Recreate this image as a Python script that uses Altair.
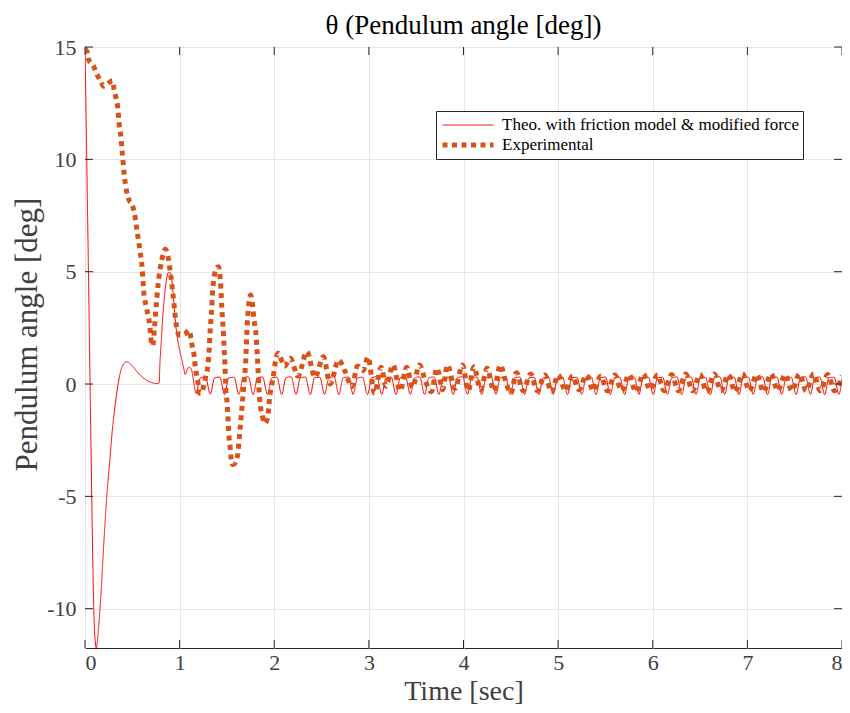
import altair as alt
import pandas as pd

series_names = ["Theo. with friction model & modified force", "Experimental"]
series_colors = ["#FF0000", "#D95319"]
x_ticks = [0, 1, 2, 3, 4, 5, 6, 7, 8]
y_ticks = [-10, -5, 0, 5, 10, 15]

# Theoretical response: transient part
theo_t = [0.000, 0.020, 0.040, 0.060, 0.075, 0.090, 0.105, 0.120, 0.140, 0.165, 0.200, 0.230,
          0.260, 0.290, 0.320, 0.350, 0.390, 0.440, 0.500, 0.550, 0.600, 0.650, 0.700, 0.770,
          0.785, 0.790, 0.800, 0.830, 0.860, 0.880, 0.900, 0.930, 0.945, 0.965, 0.980, 1.000,
          1.020, 1.040, 1.060, 1.080, 1.100, 1.125, 1.150,
          # limit-cycle oscillation
          1.173, 1.218, 1.273, 1.324, 1.369, 1.424, 1.475, 1.520, 1.575, 1.626, 1.671, 1.726,
          1.777, 1.822, 1.877, 1.928, 1.973, 2.028, 2.079, 2.124, 2.179, 2.230, 2.275, 2.330,
          2.381, 2.426, 2.481, 2.532, 2.577, 2.632, 2.683, 2.728, 2.783, 2.834, 2.879, 2.934,
          2.985, 3.030, 3.085, 3.136, 3.181, 3.236, 3.287, 3.332, 3.387, 3.438, 3.483, 3.538,
          3.589, 3.634, 3.689, 3.740, 3.785, 3.840, 3.891, 3.936, 3.991, 4.042, 4.087, 4.142,
          4.193, 4.238, 4.293, 4.344, 4.389, 4.444, 4.495, 4.540, 4.595, 4.646, 4.691, 4.746,
          4.797, 4.842, 4.897, 4.948, 4.993, 5.048, 5.099, 5.144, 5.199, 5.250, 5.295, 5.350,
          5.401, 5.446, 5.501, 5.552, 5.597, 5.652, 5.703, 5.748, 5.803, 5.854, 5.899, 5.954,
          6.005, 6.050, 6.105, 6.156, 6.201, 6.256, 6.307, 6.352, 6.407, 6.458, 6.503, 6.558,
          6.609, 6.654, 6.709, 6.760, 6.805, 6.860, 6.911, 6.956, 7.011, 7.062, 7.107, 7.162,
          7.213, 7.258, 7.313, 7.364, 7.409, 7.464, 7.515, 7.560, 7.615, 7.666, 7.711, 7.766,
          7.817, 7.862, 7.917, 7.968, 8.000]
theo_y = [15.00, 9.60, 4.00, -1.80, -6.00, -9.60, -11.30, -11.75, -11.00, -9.60, -7.00, -5.00,
          -3.50, -2.00, -0.90, 0.00, 0.75, 0.99, 0.80, 0.55, 0.33, 0.17, 0.07, 0.02,
          0.05, 0.75, 1.50, 3.44, 4.60, 4.95, 4.95, 4.10, 3.30, 2.40, 1.96, 1.50,
          1.15, 0.77, 0.42, 0.65, 0.75, 0.65, 0.05,
          -0.42, 0.26, 0.32, -0.45, 0.27, 0.31, -0.47, 0.28, 0.30, -0.46, 0.27, 0.32,
          -0.47, 0.28, 0.31, -0.46, 0.27, 0.30, -0.47, 0.28, 0.32, -0.46, 0.27, 0.31,
          -0.47, 0.28, 0.30, -0.46, 0.27, 0.32, -0.47, 0.28, 0.31, -0.46, 0.27, 0.30,
          -0.47, 0.28, 0.32, -0.46, 0.27, 0.31, -0.47, 0.28, 0.30, -0.46, 0.27, 0.32,
          -0.47, 0.28, 0.31, -0.46, 0.27, 0.30, -0.47, 0.28, 0.32, -0.46, 0.27, 0.31,
          -0.47, 0.28, 0.30, -0.46, 0.27, 0.32, -0.47, 0.28, 0.31, -0.46, 0.27, 0.30,
          -0.47, 0.28, 0.32, -0.46, 0.27, 0.31, -0.47, 0.28, 0.30, -0.46, 0.27, 0.32,
          -0.47, 0.28, 0.31, -0.46, 0.27, 0.30, -0.47, 0.28, 0.32, -0.46, 0.27, 0.31,
          -0.47, 0.28, 0.30, -0.46, 0.27, 0.32, -0.47, 0.28, 0.31, -0.46, 0.27, 0.30,
          -0.47, 0.28, 0.32, -0.46, 0.27, 0.31, -0.47, 0.28, 0.30, -0.46, 0.27, 0.32,
          -0.47, 0.28, 0.31, -0.46, 0.27, 0.30, -0.47, 0.28, 0.32, -0.46, 0.27, 0.31,
          -0.47, 0.28, 0.30, -0.46, 0.25]

# Experimental response
exp_t = [0.000, 0.020, 0.040, 0.090, 0.126, 0.161, 0.196, 0.230, 0.266, 0.290, 0.308, 0.329,
         0.346, 0.364, 0.378, 0.396, 0.413, 0.441, 0.465, 0.500, 0.522, 0.553, 0.581, 0.606,
         0.619, 0.651, 0.686, 0.700, 0.715, 0.735, 0.752, 0.770, 0.798, 0.829, 0.847, 0.875,
         0.903, 0.927, 0.945, 0.962, 0.997, 1.050, 1.100, 1.120, 1.137, 1.155, 1.165, 1.180,
         1.195, 1.207, 1.230, 1.260, 1.280, 1.295, 1.312, 1.323, 1.337, 1.347, 1.358, 1.372,
         1.389, 1.410, 1.435, 1.445, 1.459, 1.470, 1.480, 1.487, 1.505, 1.515, 1.522, 1.533,
         1.540, 1.557, 1.580, 1.600, 1.620, 1.627, 1.638, 1.655, 1.680, 1.697, 1.715, 1.732,
         1.750, 1.767, 1.785, 1.810, 1.827, 1.837, 1.855, 1.872, 1.900, 1.932, 1.950, 1.970,
         1.995, 2.012, 2.040, 2.110, 2.170, 2.250, 2.345, 2.430, 2.520, 2.590, 2.680, 2.750,
         2.820, 2.880, 2.940, 2.990, 3.060, 3.130, 3.180, 3.255, 3.330, 3.400, 3.460, 3.535,
         3.600, 3.660, 3.720, 3.780, 3.830, 3.910, 3.990, 4.050, 4.110, 4.180, 4.250, 4.320,
         4.390, 4.440, 4.500, 4.560, 4.630, 4.710, 4.780, 4.860, 4.930, 5.000, 5.080, 5.150,
         5.220, 5.300, 5.370, 5.450, 5.520, 5.600, 5.670, 5.750, 5.820, 5.900, 5.970, 6.050,
         6.120, 6.200, 6.270, 6.350, 6.420, 6.500, 6.570, 6.650, 6.720, 6.800, 6.870, 6.950,
         7.020, 7.100, 7.170, 7.250, 7.320, 7.400, 7.470, 7.550, 7.620, 7.700, 7.770, 7.850,
         7.920, 8.000]
exp_y = [14.90, 14.80, 14.42, 14.15, 13.78, 13.53, 13.25, 13.35, 13.45, 13.50, 13.10, 12.71,
         12.30, 11.45, 11.05, 10.19, 9.38, 8.56, 8.19, 7.97, 7.60, 6.73, 5.93, 5.07,
         4.21, 3.37, 2.55, 1.90, 1.70, 2.55, 3.44, 4.33, 5.22, 5.81, 6.00, 5.74,
         4.93, 4.11, 3.37, 2.70, 2.18, 2.21, 2.40, 2.03, 1.59, 1.21, 0.77, 0.40,
         0.03, -0.41, -0.41, 0.03, 0.40, 0.70, 1.51, 2.40, 3.22, 4.04, 4.55, 4.93,
         5.15, 5.22, 4.33, 3.44, 2.55, 1.66, 0.77, -0.12, -1.01, -1.90, -2.35, -2.79,
         -3.16, -3.58, -3.55, -3.38, -2.94, -2.57, -2.05, -1.23, 0.03, 0.92, 2.70, 3.59,
         3.96, 3.66, 2.92, 2.03, 0.77, -0.12, -1.01, -1.38, -1.75, -1.45, -0.64, -0.12,
         0.48, 0.99, 1.37, 0.80, 1.15, 0.35, 1.44, 0.30, 1.21, 0.00, 1.07, 0.55,
         -0.12, 0.80, 0.60, 1.20, -0.41, 0.75, -0.10, 0.85, -0.30, 0.75, -0.15, 0.85,
         0.10, -0.34, 0.70, -0.25, 0.85, -0.20, 0.85, -0.30, 0.77, -0.25, 0.70, -0.30,
         0.85, 0.20, -0.41, 0.50, -0.30, 0.45, -0.30, 0.40, -0.35, 0.40, -0.30, 0.35,
         -0.25, 0.40, -0.30, 0.35, -0.30, 0.40, -0.30, 0.42, -0.35, 0.45, -0.25, 0.40,
         -0.30, 0.42, -0.30, 0.45, -0.30, 0.42, -0.35, 0.45, -0.30, 0.42, -0.35, 0.45,
         -0.30, 0.42, -0.35, 0.45, -0.30, 0.42, -0.30, 0.45, -0.30, 0.45, -0.30, 0.42,
         -0.30, 0.35]

theo_df = pd.DataFrame({"t": theo_t, "y": theo_y, "series": series_names[0]})
exp_df = pd.DataFrame({"t": exp_t, "y": exp_y, "series": series_names[1]})

FONT = "Liberation Serif"
W, H = 757, 601

x_enc = alt.X("t:Q", scale=alt.Scale(domain=[0, 8], nice=False),
              axis=alt.Axis(values=x_ticks, title="Time [sec]", labelExpr="'' + datum.value",
                            labelPadding=4, titleFontSize=28, titleY=51.2, titleBaseline="alphabetic"))
y_enc = alt.Y("y:Q", scale=alt.Scale(domain=[-11.75, 15], nice=False, zero=False),
              axis=alt.Axis(values=y_ticks, title="Pendulum angle [deg]", labelExpr="'' + datum.value",
                            labelPadding=9, titleFontSize=31, titleX=-49, titleY=287,
                            titleBaseline="alphabetic", titleAlign="center", titleAngle=270))

leg = alt.Legend(title=None, orient="none", legendX=351, legendY=64, symbolType="stroke",
                 symbolSize=2600, clipHeight=20, labelFont=FONT, labelFontSize=17, labelColor="#000000",
                 strokeColor="#262626", fillColor="#ffffff", padding=4, rowPadding=0,
                 labelLimit=0, labelOffset=6)

color_enc = alt.Color("series:N", scale=alt.Scale(domain=series_names, range=series_colors), legend=leg)
dash_enc = alt.StrokeDash("series:N", scale=alt.Scale(domain=series_names, range=[[1, 0], [5, 4.5]]), legend=leg)
width_enc = alt.StrokeWidth("series:N", scale=alt.Scale(domain=series_names, range=[1, 5]), legend=leg)

theo_layer = alt.Chart(theo_df).mark_line(interpolate="monotone", clip=True, strokeCap="butt").encode(
    x=x_enc, y=y_enc, color=color_enc, strokeDash=dash_enc, strokeWidth=width_enc)
exp_layer = alt.Chart(exp_df).mark_line(interpolate="monotone", clip=True, strokeCap="butt").encode(
    x=x_enc, y=y_enc, color=color_enc, strokeDash=dash_enc, strokeWidth=width_enc)

xt_df = pd.DataFrame({"t": x_ticks})
yt_df = pd.DataFrame({"y": y_ticks})
TICK = "#262626"
tick_bottom = alt.Chart(xt_df).mark_rule(color=TICK, strokeWidth=1).encode(
    x="t:Q", y=alt.value(H), y2=alt.value(H - 8))
tick_top = alt.Chart(xt_df).mark_rule(color=TICK, strokeWidth=1).encode(
    x="t:Q", y=alt.value(0), y2=alt.value(8))
tick_left = alt.Chart(yt_df).mark_rule(color=TICK, strokeWidth=1).encode(
    y="y:Q", x=alt.value(0), x2=alt.value(8))
tick_right = alt.Chart(yt_df).mark_rule(color=TICK, strokeWidth=1).encode(
    y="y:Q", x=alt.value(W), x2=alt.value(W - 8))

chart = alt.layer(theo_layer, exp_layer, tick_bottom, tick_top, tick_left, tick_right).properties(
    width=W, height=H,
    title=alt.Title("θ (Pendulum angle [deg])", font=FONT, fontSize=27, fontWeight="normal",
                    color="#000000", offset=-4, anchor="middle"),
    autosize=alt.AutoSizeParams(type="none"),
    padding={"left": 77, "top": 39, "right": 0, "bottom": 57},
).configure_view(stroke="#262626", strokeWidth=1).configure_axis(
    labelFont=FONT, labelFontSize=22, labelColor="#404040",
    titleFont=FONT, titleFontWeight="normal", titleColor="#404040",
    grid=True, gridColor="#e6e6e6", gridWidth=1, domain=False, ticks=False, tickSize=0,
)

chart.save("out.html", embed_options={"renderer": "svg", "actions": False})
